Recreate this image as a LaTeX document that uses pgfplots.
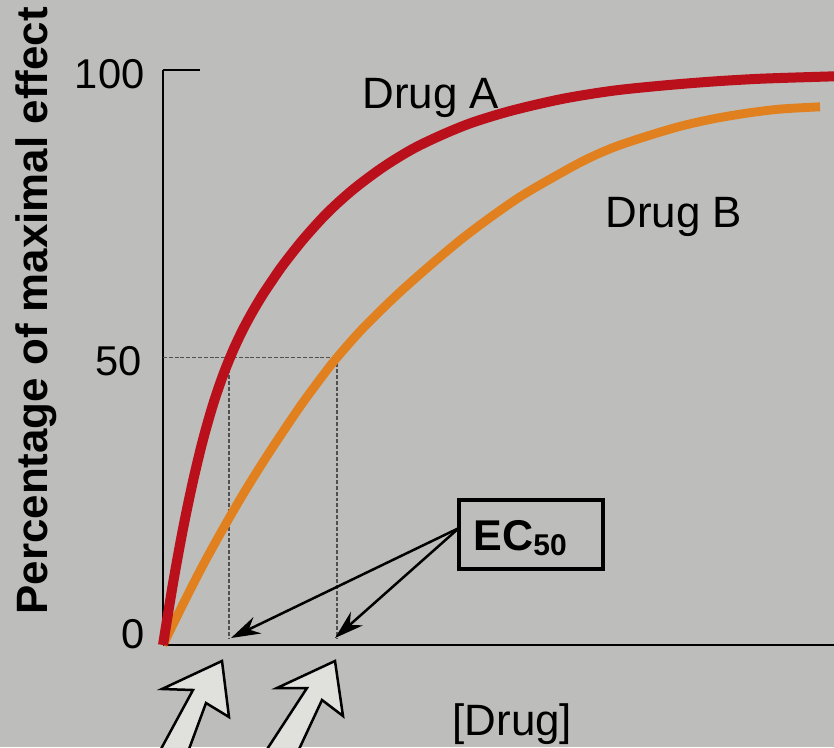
\documentclass[border=0pt]{standalone}
\usepackage{fontspec}
\setmainfont{Liberation Sans}
\usepackage{pgfplots}
\pgfplotsset{compat=1.18}
\usetikzlibrary{arrows.meta}

\definecolor{bg}{RGB}{189,189,187}
\definecolor{drugA}{RGB}{186,16,28}
\definecolor{drugB}{RGB}{224,128,30}
\definecolor{hollow}{RGB}{224,224,221}
\definecolor{guide}{RGB}{80,80,80}
\newcommand\fs[1]{\fontsize{#1}{#1}\selectfont}

\begin{document}
\begin{tikzpicture}
% picture frame in pixels of the reference: 1px = 0.36pt, axis origin at px (163,645)
\tikzset{px/.style={x=0.36pt,y=-0.36pt,shift={(-58.68pt,232.2pt)}}}
\useasboundingbox (-58.68pt,-36.72pt) rectangle (241.56pt,232.2pt);
\fill[bg] (-58.68pt,-36.72pt) rectangle (241.56pt,232.2pt);

\begin{axis}[
  at={(0pt,0pt)}, anchor=south west,
  scale only axis,
  width=241.56pt, height=207pt,
  xmin=0, xmax=67.1, ymin=0, ymax=100,
  axis x line=bottom, axis y line=left,
  axis line style={-, line width=0.9pt, black},
  xtick=\empty, ytick=\empty,
  clip=false,
]
% EC50 guide lines
\addplot[guide, mark=none, line width=0.7pt, dash pattern=on 1.4pt off 0.7pt] coordinates {(0,50) (17.4,50)};
\addplot[guide, mark=none, line width=0.7pt, dash pattern=on 1.4pt off 0.7pt] coordinates {(6.6,50) (6.6,1.2)};
\addplot[guide, mark=none, line width=0.7pt, dash pattern=on 1.4pt off 0.7pt] coordinates {(17.4,50) (17.4,1.2)};
% Drug B
\addplot[drugB, mark=none, line width=3.2pt, smooth] coordinates {
 (0,0) (2,7.1) (4,13.9) (6,20.2) (8,26.2) (10,31.8) (12,37.1) (14,42.2) (16,46.9)
 (17.4,50) (20,55.1) (23.4,60.9) (26.7,66.0) (30,70.8) (33.4,75.2) (36.4,78.7)
 (41.7,83.9) (45,86.5) (48.4,88.5) (51.7,90.2) (55,91.5) (58.4,92.5) (61.7,93.2) (65.7,93.6)};
% Drug A
\addplot[drugA, mark=none, line width=3.6pt, smooth] coordinates {
 (0,0) (1,10.7) (2,20.2) (3,28.5) (4,35.7) (5,41.8) (6,46.9) (7,51.2) (8,54.9)
 (9,58.1) (10,61.0) (11,63.6) (12,66.1) (14,70.5) (16.4,75.1) (19,79.2) (22,83.1)
 (25,86.3) (28,88.8) (31,90.9) (35,93.0) (40,95.0) (45,96.4) (50,97.3) (55,98.0)
 (60,98.5) (67.1,98.9)};
% tick at 100
\addplot[black, mark=none, line width=0.9pt] coordinates {(0,100) (3.7,100)};
\end{axis}

\begin{scope}[px]
  % tick labels
  \node[anchor=base east, inner sep=0pt, font=\fs{15}] at (145,88) {100};
  \node[anchor=base east, inner sep=0pt, font=\fs{15}] at (142,375) {50};
  \node[anchor=base east, inner sep=0pt, font=\fs{15}] at (145,648) {0};
  % axis titles
  \node[rotate=90, anchor=base west, inner sep=0pt, font=\bfseries\fs{15.8}] at (48,615) {Percentage of maximal effect};
  \node[anchor=base west, inner sep=0pt, font=\fs{15.8}] at (452,735) {[Drug]};
  % curve labels
  \node[anchor=base west, inner sep=0pt, font=\fs{15.8}] at (362,108) {Drug A};
  \node[anchor=base west, inner sep=0pt, font=\fs{15.8}] at (605,227) {Drug B};
  % EC50 box and pointers
  \draw[line width=1.1pt] (459,500) rectangle (603,569);
  \node[anchor=base west, inner sep=0pt, font=\bfseries\fs{15.5}] at (473,550) {EC\raisebox{-1.8pt}{\fs{10.8}50}};
  \draw[line width=0.9pt, -{Stealth[length=10.5pt,width=6.5pt]}] (459,528) -- (231,638);
  \draw[line width=0.9pt, -{Stealth[length=10.5pt,width=6.5pt]}] (459,528) -- (335,638);
  % hollow arrows under the axis
  \draw[fill=hollow, line width=0.9pt, line join=miter]
    (222,661) -- (162,689) -- (193,690) -- (155,760) -- (185,760) -- (206,703) -- (229,717) -- cycle;
  \draw[fill=hollow, line width=0.9pt, line join=miter]
    (335,661) -- (277,688) -- (307,688) -- (260,760) -- (294,760) -- (322,700) -- (343,716) -- cycle;
\end{scope}
\end{tikzpicture}
\end{document}
